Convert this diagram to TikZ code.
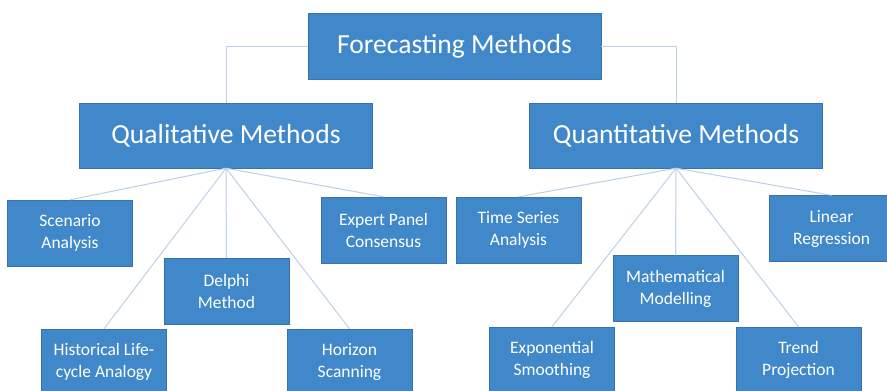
\documentclass[tikz,border=0pt]{standalone}
\usepackage{fontspec}
\setmainfont{Carlito}
\usepackage{tikz}
\definecolor{boxblue}{HTML}{4088C9}
\definecolor{boxedge}{HTML}{3672AC}
\definecolor{linkblue}{HTML}{BDD0E7}

\begin{document}
\begin{tikzpicture}[x=1pt, y=-1pt,
  bigbox/.style={draw=boxedge, fill=boxblue, text=white, inner sep=0pt, minimum width=293pt, minimum height=65pt, font=\fontsize{27.6}{32}\selectfont},
  smallbox/.style={draw=boxedge, fill=boxblue, text=white, inner sep=0pt, align=center, minimum width=125pt, minimum height=66pt, font=\fontsize{17.5}{22}\selectfont},
  link/.style={draw=linkblue, line width=1pt}]
\useasboundingbox (0,0) rectangle (887,391);
\clip (0,0) rectangle (887,391);
\fill[white] (0,0) rectangle (887,391);

\node[bigbox, minimum height=66pt] (forecast) at (454.5,46) {Forecasting Methods};
\node[bigbox] (qual) at (226,135.5) {Qualitative Methods};
\node[bigbox] (quant) at (676,135.5) {Quantitative Methods};

\node[smallbox] (scenario) at (70,233) {Scenario\\Analysis};
\node[smallbox] (expert) at (383.5,230) {Expert Panel\\Consensus};
\node[smallbox] (delphi) at (226.5,291) {Delphi\\Method};
\node[smallbox] (historical) at (104,362) {Historical Life-\\cycle Analogy};
\node[smallbox] (horizon) at (349.5,362) {Horizon\\Scanning};

\node[smallbox] (timeseries) at (518.5,230) {Time Series\\Analysis};
\node[smallbox] (linear) at (831.5,228.5) {Linear\\Regression};
\node[smallbox] (math) at (675.5,288.5) {Mathematical\\Modelling};
\node[smallbox] (expo) at (552,360) {Exponential\\Smoothing};
\node[smallbox] (trend) at (798.5,360) {Trend\\Projection};

\draw[link] (forecast.west) -| (qual.north);
\draw[link] (forecast.east) -| (quant.north);

\foreach \child in {scenario, expert, delphi, historical, horizon}
  \draw[link] (qual.south) -- (\child.north);
\foreach \child in {timeseries, linear, math, expo, trend}
  \draw[link] (quant.south) -- (\child.north);
\end{tikzpicture}
\end{document}
